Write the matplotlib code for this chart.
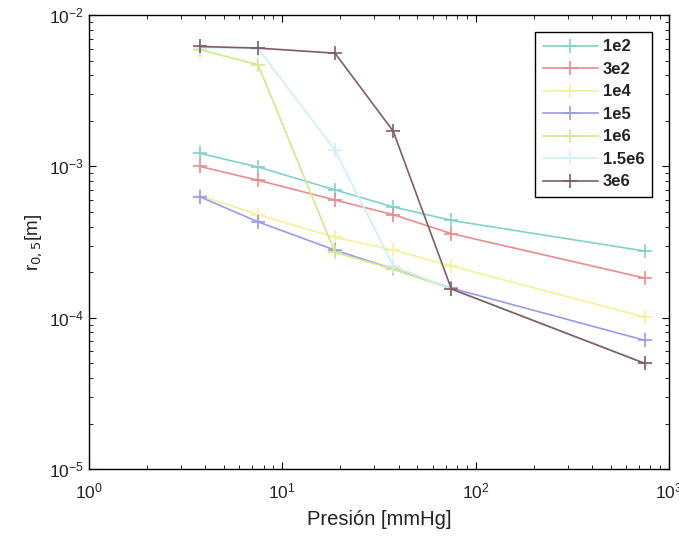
import numpy as np
import matplotlib
matplotlib.use("Agg")
import matplotlib.pyplot as plt

plt.rcParams['font.family'] = ['Liberation Sans', 'DejaVu Sans']

# pressure points [mmHg]
presion = [3.75, 7.5, 18.75, 37.5, 75, 750]

etiquetas = ['1e2', '3e2', '1e4', '1e5', '1e6', '1.5e6', '3e6']

r_1e2 = [1.22e-3, 9.9e-4, 7.0e-4, 5.4e-4, 4.4e-4, 2.76e-4]
r_3e2 = [1.0e-3, 8.1e-4, 6.0e-4, 4.8e-4, 3.6e-4, 1.83e-4]
r_1e4 = [6.4e-4, 4.8e-4, 3.4e-4, 2.8e-4, 2.2e-4, 1.01e-4]
r_1e5 = [6.3e-4, 4.3e-4, 2.8e-4, 2.1e-4, 1.57e-4, 7.1e-5]
r_1e6 = [5.9e-3, 4.7e-3, 2.7e-4, 2.1e-4, 1.55e-4, 5.0e-5]
r_15e6 = [6.1e-3, 6.0e-3, 1.28e-3, 2.2e-4, 1.55e-4, 5.0e-5]
r_3e6 = [6.2e-3, 6.05e-3, 5.6e-3, 1.71e-3, 1.55e-4, 5.0e-5]

series = [r_1e2, r_3e2, r_1e4, r_1e5, r_1e6, r_15e6, r_3e6]
colores = [(0.50, 0.82, 0.80), (0.91, 0.55, 0.55), (0.96, 0.94, 0.60),
           (0.60, 0.60, 0.91), (0.82, 0.91, 0.55), (0.82, 0.93, 0.97),
           (0.50, 0.36, 0.40)]

fig = plt.figure(figsize=(6.79, 5.38), dpi=100)
ax = fig.add_axes([0.131, 0.128, 0.854, 0.844])

for r, c, lab in zip(series, colores, etiquetas):
    ax.plot(presion, r, color=c, marker='+', markersize=10, linewidth=1.2,
            markeredgewidth=1.2, label=lab)

ax.set_xscale('log')
ax.set_yscale('log')
ax.set_xlim(1, 1000)
ax.set_ylim(1e-5, 1e-2)
ax.tick_params(which='both', direction='in', top=True, right=True,
               labelsize=12.5, labelcolor='#222222')
ax.tick_params(axis='x', which='major', pad=9)
ax.tick_params(which='major', length=5)
ax.tick_params(which='minor', length=3)
for s in ax.spines.values():
    s.set_linewidth(1.0)

ax.set_xlabel('Presión [mmHg]', fontsize=14.5, labelpad=6, color='#222222')
ax.set_ylabel(r'r$_{0,5}$[m]', fontsize=13.5, labelpad=4, color='#222222')

leg = ax.legend(loc='upper right', bbox_to_anchor=(0.971, 0.963), fontsize=12,
                fancybox=False, edgecolor='black', framealpha=1,
                handlelength=3.3, handletextpad=0.3, labelspacing=0.45,
                borderpad=0.45, borderaxespad=0)
leg.get_frame().set_linewidth(1.0)
for t in leg.get_texts():
    t.set_fontweight('bold')
    t.set_color('#222222')

fig.savefig('out.png', dpi=100)
